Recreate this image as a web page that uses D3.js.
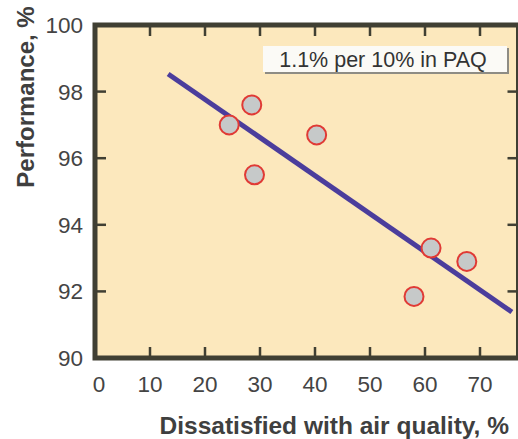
<!DOCTYPE html>
<html><head><meta charset="utf-8">
<script src="https://cdn.jsdelivr.net/npm/d3@7"></script>
<style>body{margin:0;background:#fff}svg{display:block}</style>
</head><body>
<script>
const xTicks = [0,10,20,30,40,50,60,70];
const yTicks = [90,92,94,96,98,100];
const dissatisfied = [24.4, 28.5, 29.0, 40.3, 58.0, 61.1, 67.6];
const performance = [97.0, 97.6, 95.5, 96.7, 91.85, 93.3, 92.9];
const fitX = [13.3, 75.8];
const fitY = [98.53, 91.38];
const annotation = "1.1% per 10% in PAQ";
const xTitle = "Dissatisfied with air quality, %";
const yTitle = "Performance, %";

const W=518,H=439;
const svg=d3.select("body").append("svg").attr("width",W).attr("height",H);
const x=d3.scaleLinear().domain([0,77]).range([95,518.5]);
const y=d3.scaleLinear().domain([90,100]).range([358,25]);
const font="'Liberation Sans', Arial, sans-serif";

// plot background
svg.append("rect").attr("x",x(0)).attr("y",y(100)).attr("width",x(77)-x(0)).attr("height",y(90)-y(100)).attr("fill","#fce8bd");

// annotation box
const bx=263,by=46,bw=244,bh=26;
svg.append("rect").attr("x",bx+2).attr("y",by+2).attr("width",bw).attr("height",bh).attr("fill","#8e8c84");
svg.append("rect").attr("x",bx).attr("y",by).attr("width",bw).attr("height",bh).attr("fill","#fbfaf6");
svg.append("text").attr("x",bx+bw/2-2).attr("y",by+bh/2+7.5).attr("text-anchor","middle").attr("font-family",font).attr("font-size",21.5).attr("fill","#333").text(annotation);

// ticks (inner)
const tc="#403f33", tl=11;
const g=svg.append("g").attr("stroke",tc).attr("stroke-width",2.5);
xTicks.filter(d=>d>0).forEach(d=>{
  g.append("line").attr("x1",x(d)).attr("x2",x(d)).attr("y1",y(90)).attr("y2",y(90)-tl);
  g.append("line").attr("x1",x(d)).attr("x2",x(d)).attr("y1",y(100)).attr("y2",y(100)+tl);
});
yTicks.filter(d=>d>90&&d<100).forEach(d=>{
  g.append("line").attr("x1",x(0)).attr("x2",x(0)+tl).attr("y1",y(d)).attr("y2",y(d));
  g.append("line").attr("x1",x(77)).attr("x2",x(77)-tl).attr("y1",y(d)).attr("y2",y(d));
});

// frame
svg.append("rect").attr("x",x(0)).attr("y",y(100)).attr("width",x(77)-x(0)).attr("height",y(90)-y(100)).attr("fill","none").attr("stroke",tc).attr("stroke-width",5);

// fit line
svg.append("line").attr("x1",x(fitX[0])).attr("y1",y(fitY[0])).attr("x2",x(fitX[1])).attr("y2",y(fitY[1])).attr("stroke","#4b3d9c").attr("stroke-width",5);

// points
svg.selectAll("circle.pt").data(dissatisfied.map((d,i)=>[d,performance[i]])).enter().append("circle")
  .attr("cx",d=>x(d[0])).attr("cy",d=>y(d[1])).attr("r",9.5)
  .attr("fill","#c6c9c9").attr("stroke","#e03a35").attr("stroke-width",2);

// tick labels
svg.selectAll("text.xt").data(xTicks).enter().append("text")
  .attr("x",d=>x(d)+ (d===0?4:0)).attr("y",392).attr("text-anchor","middle")
  .attr("font-family",font).attr("font-size",22.5).attr("fill","#444").text(d=>d);
svg.selectAll("text.yt").data(yTicks).enter().append("text")
  .attr("x",83).attr("y",d=>y(d)+8).attr("text-anchor","end")
  .attr("font-family",font).attr("font-size",22.5).attr("fill","#444").text(d=>d);

// titles
svg.append("text").attr("x",509).attr("y",434).attr("text-anchor","end")
  .attr("font-family",font).attr("font-size",24.5).attr("font-weight","bold").attr("fill","#3f3f3f").text(xTitle);
svg.append("text").attr("transform","translate(34,97) rotate(-90)").attr("text-anchor","middle")
  .attr("font-family",font).attr("font-size",24).attr("font-weight","bold").attr("fill","#3f3f3f").text(yTitle);
</script>
</body></html>
